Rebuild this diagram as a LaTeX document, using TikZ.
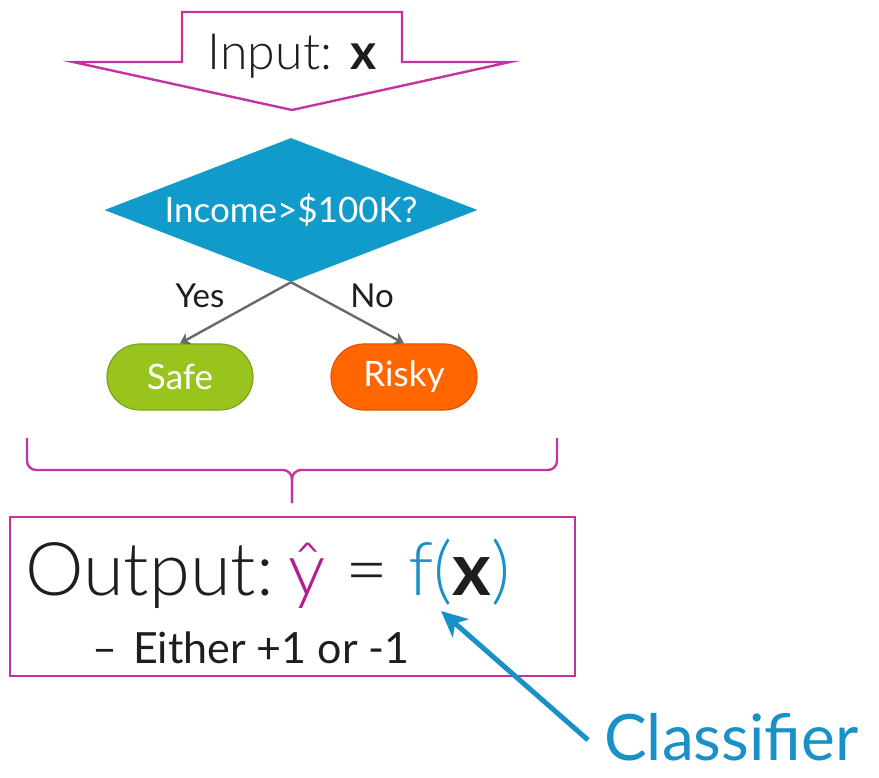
\documentclass[tikz,border=0pt]{standalone}
\usepackage{fontspec}
\setmainfont{Lato}
\newfontfamily\lightfont{Lato}[UprightFont={* Light},BoldFont={* Bold}]
\usetikzlibrary{shapes.geometric,shapes.misc,arrows.meta}
\definecolor{pinkline}{RGB}{196,52,160}
\definecolor{yhat}{RGB}{180,30,140}
\definecolor{diamondblue}{RGB}{16,155,203}
\definecolor{clfblue}{RGB}{25,145,200}
\definecolor{safegreen}{RGB}{153,196,30}
\definecolor{safeborder}{RGB}{120,165,20}
\definecolor{riskyorange}{RGB}{255,102,0}
\definecolor{riskyborder}{RGB}{225,85,0}
\definecolor{edgegray}{RGB}{105,105,105}
\definecolor{ink}{RGB}{30,30,30}
\tikzset{
  leafbox/.style={rounded rectangle, draw, line width=1.2pt, minimum width=146pt, minimum height=66pt, inner sep=0pt, text=white, font=\fontsize{35}{40}\selectfont},
  branch/.style={draw=edgegray, line width=2.4pt, -{Stealth[length=10pt,width=13pt]}},
  branchlabel/.style={text=ink, font=\fontsize{33}{38}\selectfont, inner sep=0pt},
  pinkstroke/.style={draw=pinkline, line width=2.4pt},
}
\begin{document}
\begin{tikzpicture}[x=1pt,y=-1pt]
\useasboundingbox (0,0) rectangle (879,778);
% input arrow
\draw[pinkstroke, line join=miter, fill=white] (182,12) -- (402,12) -- (402,62) -- (510,62) -- (292,110) -- (73,62) -- (182,62) -- cycle;
\node[anchor=base, text=ink, inner sep=0pt, font=\lightfont\fontsize{50}{56}\selectfont] (input) at (292,70) {Input: \textbf{x}};
% decision
\node[diamond, aspect=2.59, fill=diamondblue, minimum width=373pt, minimum height=144pt, inner sep=0pt, text=white, font=\fontsize{35}{40}\selectfont] (dec) at (291,210) {Income>\$100K?};
\node[leafbox, fill=safegreen, draw=safeborder] (safe) at (180,377) {Safe};
\node[leafbox, fill=riskyorange, draw=riskyborder] (risky) at (404,377) {Risky};
\draw[branch] (dec.south) -- (safe.north);
\draw[branch] (dec.south) -- (risky.north);
\node[branchlabel] (yes) at (200,296) {Yes};
\node[branchlabel] (no) at (372,296) {No};
% brace
\draw[pinkstroke, rounded corners=9pt] (27,438) -- (27,470) -- (292,470) -- (292,503);
\draw[pinkstroke, rounded corners=9pt] (557,438) -- (557,470) -- (292,470) -- (292,503);
% output box
\draw[draw=pinkline, line width=1.4pt] (10,517) rectangle (575,676);
\node[anchor=base west, inner sep=0pt, text=ink, font=\lightfont\fontsize{74}{80}\selectfont] (out) at (25,595) {Output:\hspace{0.2em}\textcolor{yhat}{ŷ} = \textcolor{clfblue}{f(}\textbf{x}\textcolor{clfblue}{)}};
\node[anchor=base west, inner sep=0pt, text=ink, font=\fontsize{43}{48}\selectfont] (either) at (92,663) {–\hspace{16pt}Either +1 or -1};
% classifier
\node[anchor=base west, inner sep=0pt, text=clfblue, font=\fontsize{64}{70}\selectfont] (clf) at (604,760) {Classifier};
\coordinate (astart) at (588,740);
\coordinate (ftip) at (441,611);
\draw[draw=clfblue, line width=5pt, -{Stealth[length=26pt,width=24pt,inset=7pt]}] (astart) -- (ftip);
\end{tikzpicture}
\end{document}
